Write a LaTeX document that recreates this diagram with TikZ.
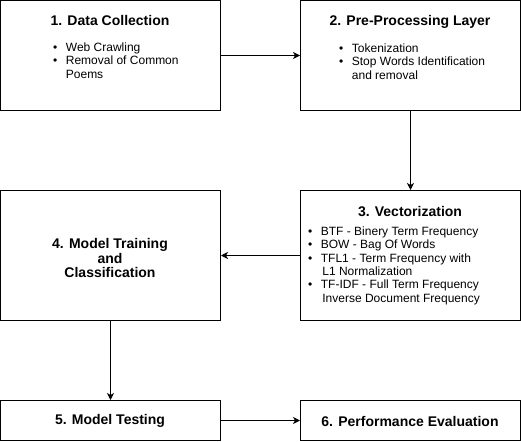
\documentclass[tikz,border=0pt]{standalone}
\usepackage{fontspec}
\setmainfont{Liberation Sans}
\usetikzlibrary{arrows.meta}
\newcommand{\bl}{•}
\begin{document}
\begin{tikzpicture}[x=1pt,y=-1pt,
  box/.style={draw,line width=1pt,inner sep=0pt},
  ttl/.style={font=\fontsize{14}{16}\selectfont\bfseries,inner sep=0pt},
  lst/.style={font=\fontsize{12}{13.3}\selectfont,inner sep=0pt,anchor=north west,align=left},
  arr/.style={line width=1pt,-{Stealth[length=7pt,width=7pt,inset=2pt]}}]
\useasboundingbox (0,0) rectangle (521,441);
\node[box,minimum width=220pt,minimum height=110pt] (b1) at (110.5,55.5) {};
\node[box,minimum width=220pt,minimum height=110pt] (b2) at (410.5,55.5) {};
\node[box,minimum width=220pt,minimum height=130pt] (b3) at (410.5,255.5) {};
\node[box,minimum width=220pt,minimum height=130pt] (b4) at (110.5,255.5) {};
\node[box,minimum width=220pt,minimum height=40pt] (b5) at (110.5,420.5) {};
\node[box,minimum width=220pt,minimum height=40pt] (b6) at (410.5,420.5) {};
\node[ttl] (t1) at (110,20) {1. Data Collection};
\node[ttl] (t2) at (410,21.5) {2. Pre-Processing Layer};
\node[ttl] (t3) at (410,212) {3. Vectorization};
\node[ttl,align=center,font=\fontsize{14}{14.8}\selectfont\bfseries] (t4) at (110,258) {4. Model Training\\and\\Classification};
\node[ttl] (t5) at (110,421) {5. Model Testing};
\node[ttl] (t6) at (410,421) {6. Performance Evaluation};
\node[lst] (l1) at (53,42) {\begin{tabular}{@{}l@{\hspace{8.5pt}}l@{}}\bl & Web Crawling\\ \bl & Removal of Common\\ & Poems\end{tabular}};
\node[lst] (l2) at (339,43) {\begin{tabular}{@{}l@{\hspace{8.5pt}}l@{}}\bl & Tokenization\\ \bl & Stop Words Identification\\ & and removal\end{tabular}};
\node[lst] (l3) at (308,226) {\begin{tabular}{@{}l@{\hspace{8.5pt}}l@{}}\bl & BTF - Binery Term Frequency\\ \bl & BOW - Bag Of Words\\ \bl & TFL1 - Term Frequency with\\ & \hspace{1.5pt}L1 Normalization\\ \bl & TF-IDF - Full Term Frequency\\ & \hspace{1.5pt}Inverse Document Frequency\end{tabular}};
\draw[arr] (b1.east) -- (b2.west);
\draw[arr] (b2.south) -- (b3.north);
\draw[arr] (b3.west) -- (b4.east);
\draw[arr] (b4.south) -- (b5.north);
\draw[arr] (b5.east) -- (b6.west);
\end{tikzpicture}
\end{document}
